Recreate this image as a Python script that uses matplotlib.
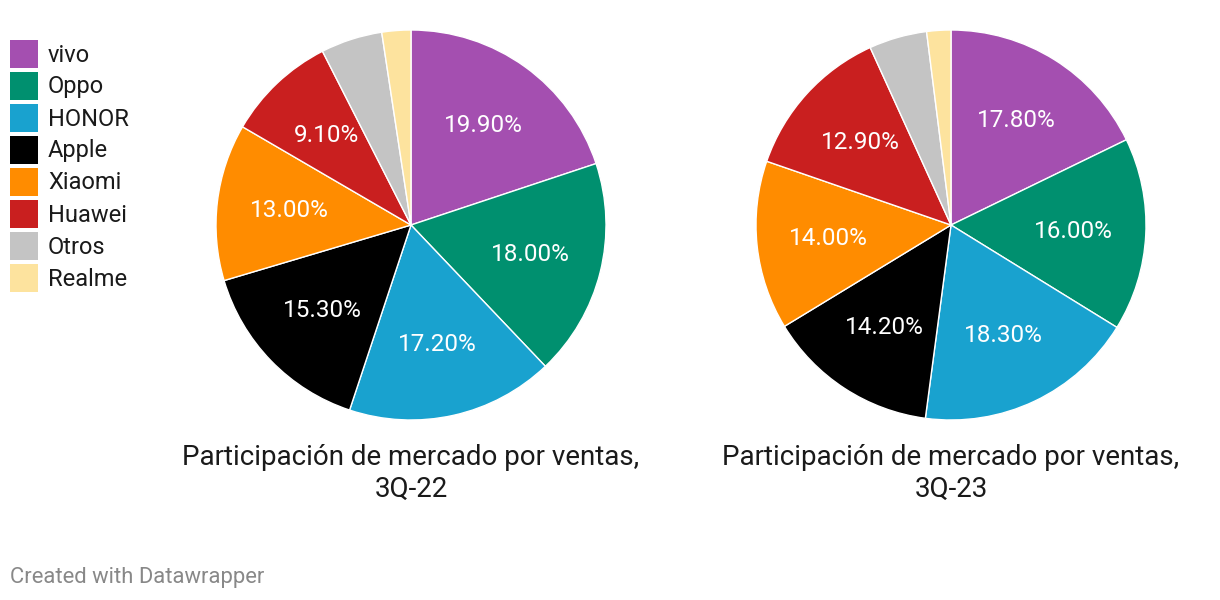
import numpy as np
import matplotlib.pyplot as plt
from matplotlib.patches import Rectangle

plt.rcParams['font.family'] = ['Roboto', 'DejaVu Sans']

marcas = ['vivo', 'Oppo', 'HONOR', 'Apple', 'Xiaomi', 'Huawei', 'Otros', 'Realme']
colores = ['#a44fb0', '#00906f', '#19a2cf', '#000000', '#ff8c00', '#c91f1f', '#c4c4c4', '#fde39e']
ventas_3q22 = [19.9, 18.0, 17.2, 15.3, 13.0, 9.1, 5.1, 2.4]
ventas_3q23 = [17.8, 16.0, 18.3, 14.2, 14.0, 12.9, 4.8, 2.0]
titulos = ['Participación de mercado por ventas,\n3Q-22',
           'Participación de mercado por ventas,\n3Q-23']

W, H = 1220, 600
fig = plt.figure(figsize=(W / 100, H / 100), dpi=100)

def etiqueta(p):
    return f'{p:.2f}%' if p > 6 else ''

centros = [411, 951]
r = 195
for cx, datos, titulo in zip(centros, [ventas_3q22, ventas_3q23], titulos):
    ax = fig.add_axes([(cx - r) / W, (H - 225 - r) / H, 2 * r / W, 2 * r / H])
    wedges, texts, autotexts = ax.pie(datos, colors=colores, startangle=90, counterclock=False,
                                      autopct=etiqueta, pctdistance=0.63,
                                      wedgeprops=dict(edgecolor='white', linewidth=1))
    for t in autotexts:
        t.set_color('white')
        t.set_fontsize(17.5)
    ax.set_xlim(-1, 1)
    ax.set_ylim(-1, 1)
    ax.set_aspect('equal')
    fig.text(cx / W, 1 - 444 / H, titulo, ha='center', va='top', fontsize=20,
             color='#1a1a1a', linespacing=1.25)

# leyenda
for i, (m, c) in enumerate(zip(marcas, colores)):
    y = 54 + i * 32
    fig.patches.append(Rectangle((10 / W, 1 - (y + 14) / H), 28 / W, 28 / H,
                                 transform=fig.transFigure, facecolor=c, edgecolor='none'))
    fig.text(48 / W, 1 - (y + 1) / H, m, ha='left', va='center', fontsize=17, color='#1a1a1a')

fig.text(10 / W, 1 - 577 / H, 'Created with Datawrapper', ha='left', va='center',
         fontsize=15.8, color='#888888')

fig.savefig('out.png', dpi=100, facecolor='white')
